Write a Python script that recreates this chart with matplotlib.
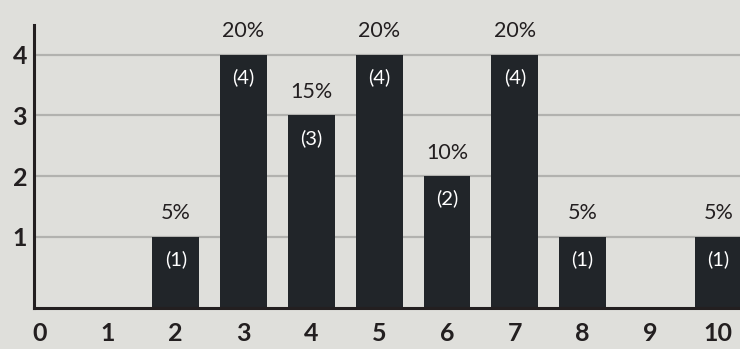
import numpy as np
import matplotlib.pyplot as plt

plt.rcParams['font.family'] = ['Lato', 'DejaVu Sans']

# score distribution: number of responses per score
scores = [0, 1, 2, 3, 4, 5, 6, 7, 8, 9, 10]
counts = [0, 0, 1, 4, 3, 4, 2, 4, 1, 0, 1]
total = sum(counts)

bg = '#dfdfdb'
bar_color = '#212529'
ink = '#231f20'

fig = plt.figure(figsize=(7.4, 3.49), dpi=100, facecolor=bg)
ax = fig.add_axes([34 / 740, 41 / 349, 706 / 740, 283 / 349], facecolor=bg)

y_min, y_max = -0.17, 4.49
ax.set_xlim(-0.09, 10.32)
ax.set_ylim(y_min, y_max)

# horizontal guide lines behind the bars
for y in [1, 2, 3, 4]:
    ax.axhline(y, color='#b2b2af', lw=1.6, zorder=1)

heights = [c - y_min if c > 0 else 0 for c in counts]
ax.bar(scores, heights, bottom=y_min, width=0.69, color=bar_color,
       zorder=2, clip_on=True)

for s, c in zip(scores, counts):
    if c == 0:
        continue
    pct = c / total * 100
    ax.annotate(f'{pct:.0f}%', (s, c), xytext=(0, 17), textcoords='offset points',
                ha='center', va='center', fontsize=15.5, color=ink,
                annotation_clip=False)
    ax.annotate(f'({c})', (s, c), xytext=(0, -16), textcoords='offset points',
                ha='center', va='center', fontsize=14.5, color='white')

for side in ['top', 'right']:
    ax.spines[side].set_visible(False)
for side in ['left', 'bottom']:
    ax.spines[side].set_color(ink)
    ax.spines[side].set_linewidth(2.2)
    ax.spines[side].set_zorder(3)

ax.set_xticks(scores)
ax.set_xticklabels([str(s) for s in scores], fontsize=18, fontweight='bold', color=ink)
ax.set_yticks([1, 2, 3, 4])
ax.set_yticklabels(['1', '2', '3', '4'], fontsize=18, fontweight='bold', color=ink)
ax.tick_params(axis='both', length=0)
ax.tick_params(axis='x', pad=10)
ax.tick_params(axis='y', pad=5)

fig.savefig('out.png', dpi=100, facecolor=bg)
